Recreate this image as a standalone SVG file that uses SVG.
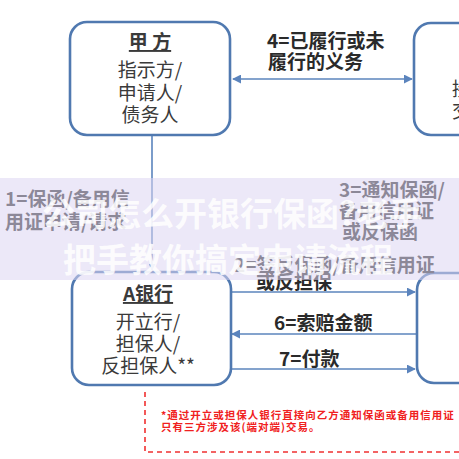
<svg xmlns="http://www.w3.org/2000/svg" width="459" height="459" viewBox="0 0 459 459">
<defs>
<style>
.box{fill:#fff;stroke:#5079b0;stroke-width:2.6}
.ln{stroke:#5b84bd;stroke-width:1.6;fill:none}
.t{font-family:"Noto Sans CJK SC","Liberation Sans",sans-serif;fill:#3a3a3a;font-size:19px}
.h{font-weight:bold;text-decoration:underline}
.lb{font-family:"Noto Sans CJK SC","Liberation Sans",sans-serif;fill:#2a2a2a;font-size:19px;font-weight:bold}
.red{font-family:"Noto Sans CJK SC","Liberation Sans",sans-serif;fill:#f02020;font-size:10.5px;font-weight:bold;letter-spacing:1px}
.wm{font-family:"Noto Sans CJK SC","Liberation Sans",sans-serif;fill:#fff;font-size:33px;font-weight:bold;opacity:0.85}
</style>
<marker id="ah" viewBox="0 0 10 10" refX="9" refY="5" markerWidth="7" markerHeight="7" markerUnits="userSpaceOnUse" orient="auto-start-reverse">
<path d="M0,0 L10,5 L0,10 z" fill="#5b84bd"/>
</marker>
<marker id="ah2" viewBox="0 0 10 10" refX="9" refY="5" markerWidth="9" markerHeight="9" markerUnits="userSpaceOnUse" orient="auto-start-reverse">
<path d="M0,0 L10,5 L0,10 z" fill="#5b84bd"/>
</marker>
</defs>
<rect width="459" height="459" fill="#fff"/>
<g id="connectors">
<line class="ln" x1="152" y1="136" x2="152" y2="270" marker-end="url(#ah)"/>
<line class="ln" x1="233" y1="79" x2="412" y2="79" marker-start="url(#ah2)" marker-end="url(#ah2)"/>
<line class="ln" x1="231" y1="292" x2="415" y2="292" marker-end="url(#ah2)"/>
<line class="ln" x1="416" y1="334" x2="232" y2="334" marker-end="url(#ah2)"/>
<line class="ln" x1="231" y1="369" x2="415" y2="369" marker-end="url(#ah2)"/>
</g>
<g id="node-jiafang">
<rect class="box" x="70" y="22" width="160" height="113" rx="17"/>
<text class="t h" x="150" y="49" text-anchor="middle">甲 方</text>
<text class="t" x="150" y="77" text-anchor="middle">指示方/</text>
<text class="t" x="150" y="100" text-anchor="middle">申请人/</text>
<text class="t" x="150" y="122" text-anchor="middle">债务人</text>
</g>
<g id="node-yifang">
<rect class="box" x="414" y="23" width="160" height="112" rx="17"/>
<text class="t" x="452" y="96">接收方/</text>
<text class="t" x="452" y="118">交易方</text>
</g>
<g id="node-abank">
<rect class="box" x="72" y="272" width="159" height="113" rx="17"/>
<text class="t h" x="148" y="301" text-anchor="middle">A银行</text>
<text class="t" x="148" y="329" text-anchor="middle">开立行/</text>
<text class="t" x="148" y="351" text-anchor="middle">担保人/</text>
<text class="t" x="148" y="373" text-anchor="middle">反担保人**</text>
</g>
<g id="node-right-bottom">
<rect class="box" x="417" y="273" width="160" height="110" rx="17"/>
</g>
<g id="labels">
<text class="lb" x="267" y="48">4=已履行或未</text>
<text class="lb" x="268" y="69">履行的义务</text>
<text class="lb" x="5" y="206">1=保函/备用信</text>
<text class="lb" x="5" y="229">用证申请/请求</text>
<text class="lb" x="339" y="197">3=通知保函/</text>
<text class="lb" x="339" y="218">备用信用证</text>
<text class="lb" x="342" y="239">或反保函</text>
<text class="lb" x="234" y="272">2=签反保函/备用信用证</text>
<text class="lb" x="256" y="289">或反担保</text>
<text class="lb" x="274" y="330">6=索赔金额</text>
<text class="lb" x="279" y="366">7=付款</text>
</g>
<g id="note">
<path d="M145,392 V452 H459" fill="none" stroke="#f03030" stroke-width="1.6" stroke-dasharray="5,4"/>
<text class="red" x="161" y="419">*通过开立或担保人银行直接向乙方通知保函或备用信用证</text>
<text class="red" x="161" y="431">只有三方涉及该(端对端)交易。</text>
</g>
<g id="banner">
<rect x="0" y="178" width="459" height="102" fill="#ddd6f2" opacity="0.55"/>
<text class="wm" x="42" y="226">公司怎么开银行保函?老手</text>
<text class="wm" x="63" y="272">把手教你搞定申请流程</text>
</g>
</svg>
